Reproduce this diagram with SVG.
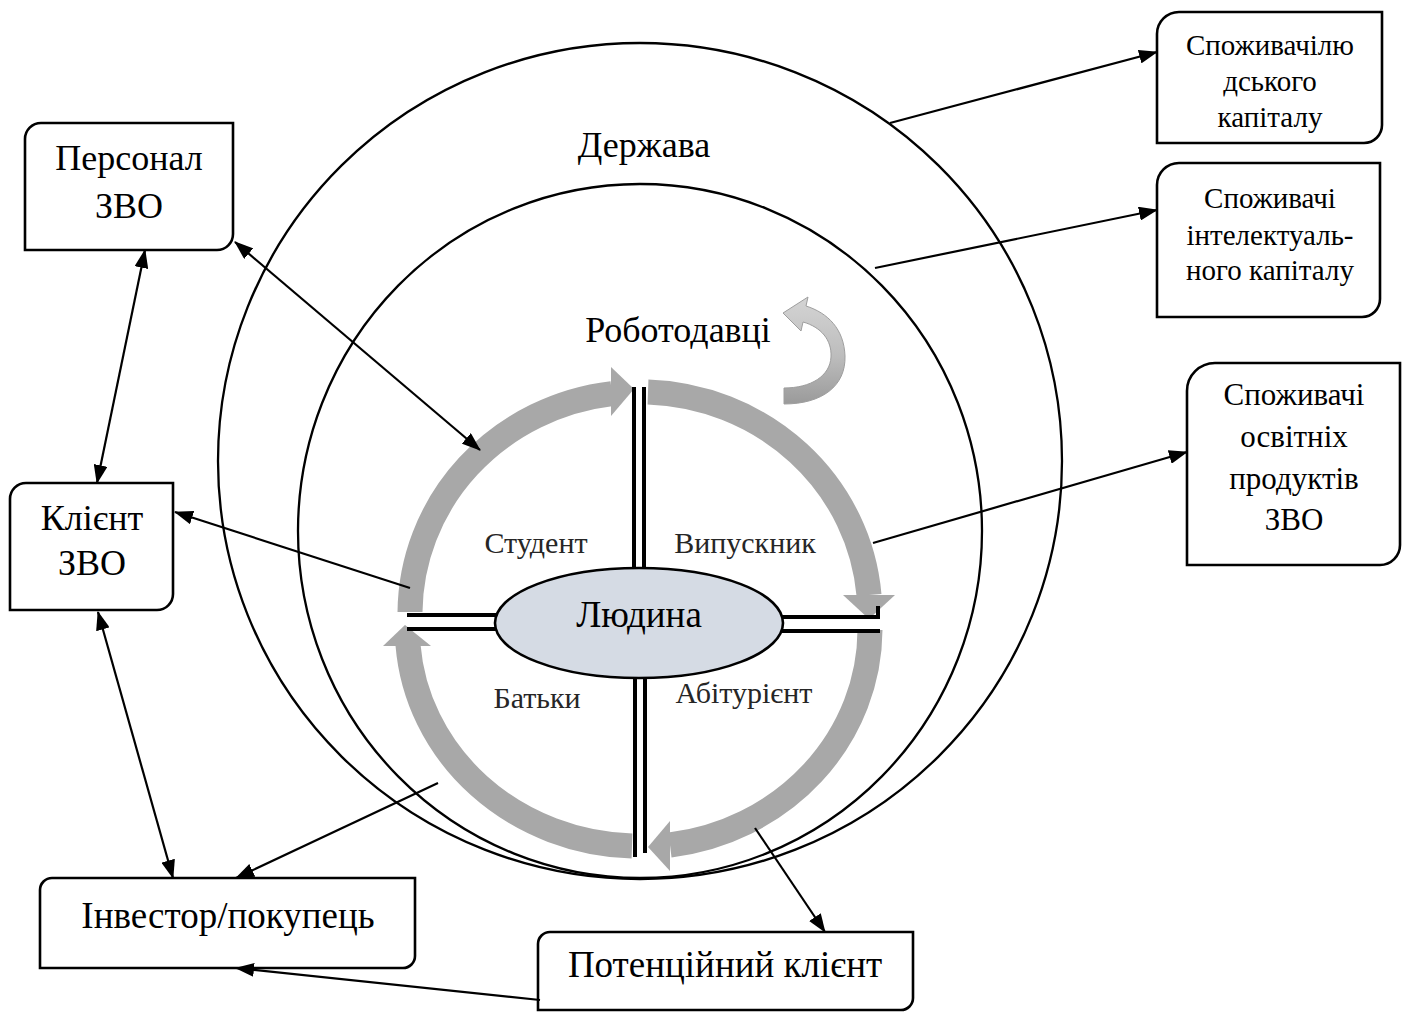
<svg xmlns="http://www.w3.org/2000/svg" width="1408" height="1012" viewBox="0 0 1408 1012">
  <style>
    .box { fill: #ffffff; stroke: #000000; stroke-width: 2.6; }
    .t { font-family: "Liberation Serif", "Times New Roman", serif; fill: #000000; text-anchor: middle; }
    .lbl { font-family: "Liberation Serif", "Times New Roman", serif; fill: #262626; text-anchor: middle; font-size: 30px; }
    .ring { fill: none; stroke: #000000; stroke-width: 2.3; }
    .link { fill: none; stroke: #000000; stroke-width: 2.2; }
    .arc { fill: none; stroke: #a8a8a8; stroke-width: 25; }
    .head { fill: #a8a8a8; }
    .dbl { stroke: #000000; stroke-width: 4; }
  </style>
  <defs>
    <marker id="arr" markerUnits="userSpaceOnUse" markerWidth="19" markerHeight="14" refX="18" refY="7" orient="auto-start-reverse">
      <path d="M0,0 L19,7 L0,14 z" fill="#000000"/>
    </marker>
    <linearGradient id="curlFill" x1="0" y1="0" x2="0" y2="1">
      <stop offset="0" stop-color="#d4d4d4"/>
      <stop offset="0.55" stop-color="#bdbdbd"/>
      <stop offset="1" stop-color="#9a9a9a"/>
    </linearGradient>
  </defs>

  <!-- outer and inner rings -->
  <g id="ring-state">
    <ellipse class="ring" cx="640" cy="461" rx="422" ry="418"/>
    <text class="t" x="644" y="157" font-size="36">Держава</text>
  </g>
  <g id="ring-employers">
    <ellipse class="ring" cx="640" cy="531" rx="342" ry="347"/>
    <text class="t" x="678" y="342" font-size="36">Роботодавці</text>
    <path d="M784 388 L784 404 C822 404 846 386 845 356 C844 329 828 313 806 306 L808 297 L783 313 L801 331 L803 322 C821 327 832 340 831 357 C830 376 811 388 784 388 Z" fill="url(#curlFill)" stroke="#9e9e9e" stroke-width="1"/>
  </g>

  <!-- life cycle around the person -->
  <g id="cycle">
    <path class="arc" d="M410 612 A230 222 0 0 1 612 393.6"/>
    <polygon class="head" points="611,367 634,389 611,416"/>
    <path class="arc" d="M648 392 A230 222 0 0 1 869 595"/>
    <polygon class="head" points="843,595 895,595 869,619"/>
    <path class="arc" d="M870 630 A230 218 0 0 1 670 845"/>
    <polygon class="head" points="670,821 670,871 648,847"/>
    <path class="arc" d="M632 846 A232 218 0 0 1 408 645"/>
    <polygon class="head" points="383,646 431,646 405,625"/>

    <line class="dbl" x1="634" y1="387" x2="634" y2="572"/>
    <line class="dbl" x1="644" y1="387" x2="644" y2="570"/>
    <line class="dbl" x1="635" y1="676" x2="635" y2="857"/>
    <line class="dbl" x1="645" y1="676" x2="645" y2="853"/>
    <line class="dbl" x1="407" y1="615" x2="500" y2="615"/>
    <line class="dbl" x1="407" y1="629" x2="500" y2="629"/>
    <line class="dbl" x1="778" y1="617" x2="880" y2="617"/>
    <line class="dbl" x1="778" y1="631" x2="880" y2="631"/>
    <line class="dbl" x1="878" y1="606" x2="878" y2="619"/>

    <text class="lbl" x="536" y="553">Студент</text>
    <text class="lbl" x="745" y="553">Випускник</text>
    <text class="lbl" x="537" y="708">Батьки</text>
    <text class="lbl" x="744" y="703">Абітурієнт</text>
  </g>

  <g id="person">
    <ellipse cx="639" cy="623" rx="144" ry="55" fill="#d5dbe4" stroke="#000000" stroke-width="2.6"/>
    <text class="t" x="639" y="627" font-size="37">Людина</text>
  </g>

  <!-- boxes -->
  <g id="consumers-human">
    <path class="box" d="M1157 34 A22 22 0 0 1 1179 12 L1382 12 L1382 125 A18 18 0 0 1 1364 143 L1157 143 Z"/>
    <text class="t" font-size="29" x="1270" y="55">Споживачілю</text>
    <text class="t" font-size="29" x="1270" y="91">дського</text>
    <text class="t" font-size="29" x="1270" y="127">капіталу</text>
  </g>
  <g id="consumers-intellectual">
    <path class="box" d="M1157 185 A22 22 0 0 1 1179 163 L1380 163 L1380 299 A18 18 0 0 1 1362 317 L1157 317 Z"/>
    <text class="t" font-size="29" x="1270" y="208">Споживачі</text>
    <text class="t" font-size="29" x="1270" y="245">інтелектуаль-</text>
    <text class="t" font-size="29" x="1270" y="280">ного капіталу</text>
  </g>
  <g id="consumers-products">
    <path class="box" d="M1187 391 A28 28 0 0 1 1215 363 L1400 363 L1400 545 A20 20 0 0 1 1380 565 L1187 565 Z"/>
    <text class="t" font-size="31" x="1294" y="405">Споживачі</text>
    <text class="t" font-size="31" x="1294" y="447">освітніх</text>
    <text class="t" font-size="31" x="1294" y="489">продуктів</text>
    <text class="t" font-size="31" x="1294" y="530">ЗВО</text>
  </g>
  <g id="staff">
    <path class="box" d="M25 139 A16 16 0 0 1 41 123 L233 123 L233 234 A16 16 0 0 1 217 250 L25 250 Z"/>
    <text class="t" font-size="36" x="129" y="170">Персонал</text>
    <text class="t" font-size="36" x="129" y="218">ЗВО</text>
  </g>
  <g id="client">
    <path class="box" d="M10 499 A16 16 0 0 1 26 483 L173 483 L173 594 A16 16 0 0 1 157 610 L10 610 Z"/>
    <text class="t" font-size="36" x="92" y="530">Клієнт</text>
    <text class="t" font-size="36" x="92" y="575">ЗВО</text>
  </g>
  <g id="investor">
    <path class="box" d="M40 890 A12 12 0 0 1 52 878 L415 878 L415 956 A12 12 0 0 1 403 968 L40 968 Z"/>
    <text class="t" font-size="37" x="228" y="928">Інвестор/покупець</text>
  </g>
  <g id="potential-client">
    <path class="box" d="M538 944 A12 12 0 0 1 550 932 L913 932 L913 998 A12 12 0 0 1 901 1010 L538 1010 Z"/>
    <text class="t" font-size="37" x="725" y="977">Потенційний клієнт</text>
  </g>

  <!-- connectors -->
  <g id="connectors">
    <line class="link" x1="890" y1="123" x2="1157" y2="52" marker-end="url(#arr)"/>
    <line class="link" x1="875" y1="268" x2="1157" y2="210" marker-end="url(#arr)"/>
    <line class="link" x1="873" y1="543" x2="1187" y2="452" marker-end="url(#arr)"/>
    <line class="link" x1="235" y1="242" x2="480" y2="450" marker-start="url(#arr)" marker-end="url(#arr)"/>
    <line class="link" x1="145" y1="250" x2="97" y2="483" marker-start="url(#arr)" marker-end="url(#arr)"/>
    <line class="link" x1="410" y1="588" x2="175" y2="512" marker-end="url(#arr)"/>
    <line class="link" x1="98" y1="612" x2="173" y2="878" marker-start="url(#arr)" marker-end="url(#arr)"/>
    <line class="link" x1="438" y1="783" x2="236" y2="878" marker-end="url(#arr)"/>
    <line class="link" x1="755" y1="828" x2="825" y2="932" marker-end="url(#arr)"/>
    <line class="link" x1="540" y1="1000" x2="236" y2="968" marker-end="url(#arr)"/>
  </g>
</svg>
